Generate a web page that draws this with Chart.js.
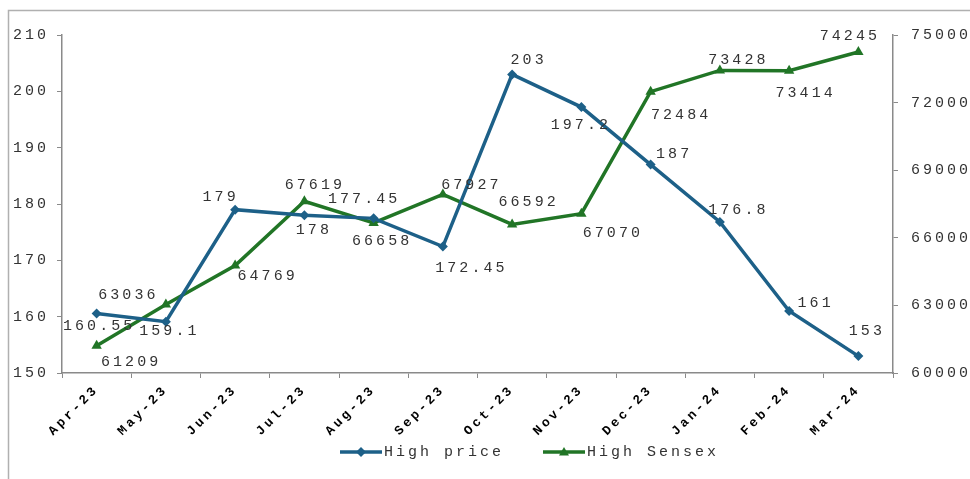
<!DOCTYPE html>
<html>
<head>
<meta charset="utf-8">
<script src="https://cdn.jsdelivr.net/npm/chart.js@4/dist/chart.umd.min.js"></script>
<style>
  html, body { margin: 0; padding: 0; background: #fff; }
  #wrap { width: 970px; height: 479px; position: relative; }
</style>
</head>
<body>
<div id="wrap"><canvas id="c" width="970" height="479"></canvas></div>
<script>
const categories = ['Apr-23','May-23','Jun-23','Jul-23','Aug-23','Sep-23','Oct-23','Nov-23','Dec-23','Jan-24','Feb-24','Mar-24'];
const highPrice = [160.55, 159.1, 179, 178, 177.45, 172.45, 203, 197.2, 187, 176.8, 161, 153];
const highSensex = [61209, 63036, 64769, 67619, 66658, 67927, 66592, 67070, 72484, 73428, 73414, 74245];
const leftTicks = [150, 160, 170, 180, 190, 200, 210];
const rightTicks = [60000, 63000, 66000, 69000, 72000, 75000];

const BLUE = '#1d6088';
const GREEN = '#217526';
const FONT = "'Liberation Mono', 'Courier New', monospace";
const SPACING = '3px';

// label offsets (style) relative to each point
const labelOffsets = [
  [[1,12],[2,9],[-16,-13],[8,15],[-11,-19],[27,21],[15,-14],[-2,18],[22,-11],[17,-12],[25,-8],[7,-25]],
  [[33,16],[-39,-10],[31,10],[9,-16],[7,18],[27,-9],[15,-22],[30,19],[29,23],[17,-10],[15,22],[-10,-16]]
];

const spacingPlugin = {
  id: 'spacing',
  beforeUpdate(chart) { chart.ctx.letterSpacing = SPACING; },
  beforeLayout(chart) { chart.ctx.letterSpacing = SPACING; },
  beforeDraw(chart) { chart.ctx.letterSpacing = SPACING; }
};

const framePlugin = {
  id: 'frame',
  beforeDraw(chart) {
    const ctx = chart.ctx;
    ctx.save();
    ctx.strokeStyle = '#b0b0b0';
    ctx.lineWidth = 1.5;
    ctx.beginPath();
    ctx.moveTo(8.5, 480);
    ctx.lineTo(8.5, 10.5);
    ctx.lineTo(971, 10.5);
    ctx.stroke();
    ctx.restore();
  }
};

const labelPlugin = {
  id: 'pointLabels',
  afterDatasetsDraw(chart) {
    const ctx = chart.ctx;
    ctx.save();
    ctx.letterSpacing = SPACING;
    ctx.font = '15px ' + FONT;
    ctx.fillStyle = '#333';
    ctx.textAlign = 'center';
    ctx.textBaseline = 'middle';
    chart.data.datasets.forEach((ds, di) => {
      const meta = chart.getDatasetMeta(di);
      meta.data.forEach((pt, i) => {
        const off = labelOffsets[di][i];
        ctx.fillText(String(ds.data[i]), pt.x + off[0] + 1.5, pt.y + off[1]);
      });
    });
    ctx.restore();
  }
};

function drawMarker(ctx, style, x, y, r, color) {
  ctx.fillStyle = color;
  ctx.beginPath();
  if (style === 'rectRot') {
    ctx.moveTo(x, y - r); ctx.lineTo(x + r, y); ctx.lineTo(x, y + r); ctx.lineTo(x - r, y);
  } else {
    ctx.moveTo(x, y - r); ctx.lineTo(x + r, y + r * 0.7); ctx.lineTo(x - r, y + r * 0.7);
  }
  ctx.closePath();
  ctx.fill();
}

const legendPlugin = {
  id: 'customLegend',
  afterDraw(chart) {
    const ctx = chart.ctx;
    ctx.save();
    ctx.letterSpacing = SPACING;
    ctx.font = '15px ' + FONT;
    ctx.textBaseline = 'middle';
    ctx.textAlign = 'left';
    const items = [
      { x: 340, text: chart.data.datasets[0].label, color: BLUE, style: 'rectRot' },
      { x: 543, text: chart.data.datasets[1].label, color: GREEN, style: 'triangle' }
    ];
    const y = 452;
    items.forEach(it => {
      ctx.strokeStyle = it.color;
      ctx.lineWidth = 3.5;
      ctx.beginPath();
      ctx.moveTo(it.x, y); ctx.lineTo(it.x + 42, y);
      ctx.stroke();
      drawMarker(ctx, it.style, it.x + 21, y, 5, it.color);
      ctx.fillStyle = '#333';
      ctx.fillText(it.text, it.x + 44, y);
    });
    ctx.restore();
  }
};

new Chart(document.getElementById('c'), {
  type: 'line',
  data: {
    labels: categories,
    datasets: [
      {
        label: 'High price',
        data: highPrice,
        yAxisID: 'y',
        borderColor: BLUE,
        backgroundColor: BLUE,
        borderWidth: 3.5,
        pointStyle: 'rectRot',
        pointRadius: 5,
        pointBorderWidth: 0,
        tension: 0
      },
      {
        label: 'High Sensex',
        data: highSensex,
        yAxisID: 'y1',
        borderColor: GREEN,
        backgroundColor: GREEN,
        borderWidth: 3.5,
        pointStyle: 'triangle',
        pointRadius: 6,
        pointBorderWidth: 0,
        tension: 0
      }
    ]
  },
  options: {
    responsive: false,
    animation: false,
    devicePixelRatio: 1,
    layout: { padding: { top: 35, left: 0, right: 0, bottom: 0 } },
    plugins: { legend: { display: false }, tooltip: { enabled: false } },
    scales: {
      x: {
        offset: true,
        grid: { display: true, drawOnChartArea: false, tickLength: 5, color: '#8a8a8a', offset: true },
        border: { display: true, color: '#8a8a8a', width: 1.5 },
        ticks: {
          maxRotation: 45, minRotation: 45, padding: 4,
          color: '#000',
          font: { family: FONT, size: 13, weight: 'bold' }
        },
        afterFit(s) { s.height = 106; }
      },
      y: {
        position: 'left',
        min: 150, max: 210,
        afterBuildTicks(s) { s.ticks = leftTicks.map(v => ({ value: v })); },
        grid: { display: true, drawOnChartArea: false, tickLength: 5, color: '#8a8a8a' },
        border: { display: true, color: '#8a8a8a', width: 1.5 },
        ticks: { color: '#333', padding: 8, font: { family: FONT, size: 15 } },
        afterFit(s) { s.width = 62; }
      },
      y1: {
        position: 'right',
        min: 60000, max: 75000,
        afterBuildTicks(s) { s.ticks = rightTicks.map(v => ({ value: v })); },
        grid: { display: true, drawOnChartArea: false, tickLength: 5, color: '#8a8a8a' },
        border: { display: true, color: '#8a8a8a', width: 1.5 },
        ticks: { color: '#333', padding: 13, font: { family: FONT, size: 15 }, callback: v => String(v) },
        afterFit(s) { s.width = 77; }
      }
    }
  },
  plugins: [spacingPlugin, framePlugin, labelPlugin, legendPlugin]
});
</script>
</body>
</html>
